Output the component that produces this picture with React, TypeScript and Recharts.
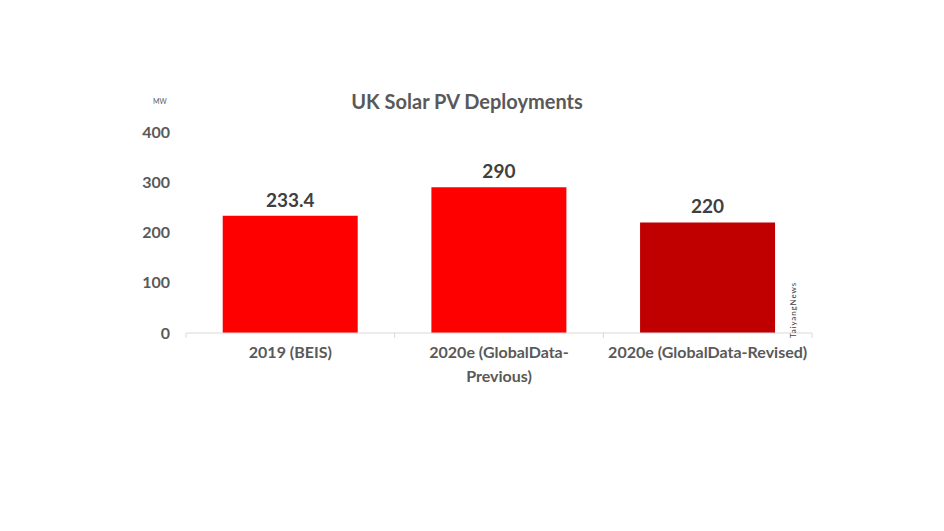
import { BarChart, Bar, XAxis, YAxis, LabelList, Cell } from "recharts"

const categories = ["2019 (BEIS)", "2020e (GlobalData-\nPrevious)", "2020e (GlobalData-Revised)"]
const deployments = [233.4, 290, 220]
const barColors = ["#FF0000", "#FF0000", "#C00000"]
const yTicks = [0, 100, 200, 300, 400]

const data = categories.map((name, i) => ({ name, value: deployments[i] }))

const FONT = "Lato, 'Open Sans', sans-serif"

function CategoryTick(props: any) {
  const { x, y, payload, index, visibleTicksCount } = props
  const lines = String(payload.value).split("\n")
  const half = payload.offset ?? 0
  const isLast = index === visibleTicksCount - 1
  return (
    <g>
      <line x1={x - half} x2={x - half} y1={y - 8} y2={y - 3} stroke="#d9d9d9" />
      {isLast && <line x1={x + half} x2={x + half} y1={y - 8} y2={y - 3} stroke="#d9d9d9" />}
      <text
        x={x}
        y={y + 17}
        textAnchor="middle"
        fill="#595959"
        fontSize={16}
        fontWeight={700}
        fontFamily={FONT}
      >
        {lines.map((l, i) => (
          <tspan key={i} x={x} dy={i === 0 ? 0 : 24}>
            {l}
          </tspan>
        ))}
      </text>
    </g>
  )
}

export default function App() {
  return (
    <div style={{ position: "absolute", left: 0, top: 0, width: 944, height: 531, background: "#fff" }}>
      <div
        style={{
          position: "absolute",
          left: 0,
          width: 934,
          top: 89,
          textAlign: "center",
          fontFamily: FONT,
          fontWeight: 700,
          fontSize: 20,
          color: "#595959",
        }}
      >
        UK Solar PV Deployments
      </div>
      <div
        style={{
          position: "absolute",
          left: 153,
          top: 97,
          fontFamily: FONT,
          fontSize: 7,
          color: "#595959",
        }}
      >
        MW
      </div>
      <div
        style={{
          position: "absolute",
          left: 788,
          top: 282,
          width: 12,
          height: 56,
          fontFamily: FONT,
          fontSize: 8,
          letterSpacing: 0.9,
          color: "#404040",
          writingMode: "vertical-rl",
          transform: "rotate(180deg)",
          textAlign: "left",
          zIndex: 2,
        }}
      >
        TaiyangNews
      </div>
      <BarChart
        width={944}
        height={531}
        data={data}
        margin={{ top: 132, right: 132, bottom: 138, left: 130 }}
        barCategoryGap="17.6%"
      >
        <XAxis
          dataKey="name"
          interval={0}
          axisLine={{ stroke: "#d9d9d9" }}
          tickLine={false}
          tick={<CategoryTick />}
          height={60}
        />
        <YAxis
          domain={[0, 400]}
          ticks={yTicks}
          axisLine={false}
          tickLine={false}
          tickSize={0}
          tickMargin={16}
          width={56}
          tick={{ fill: "#595959", fontSize: 16, fontWeight: 700, fontFamily: FONT }}
        />
        <Bar dataKey="value" isAnimationActive={false}>
          {data.map((_, i) => (
            <Cell key={i} fill={barColors[i]} />
          ))}
          <LabelList
            dataKey="value"
            position="top"
            offset={9}
            fill="#404040"
            fontSize={19}
            fontWeight={700}
            fontFamily={FONT}
          />
        </Bar>
      </BarChart>
    </div>
  )
}
